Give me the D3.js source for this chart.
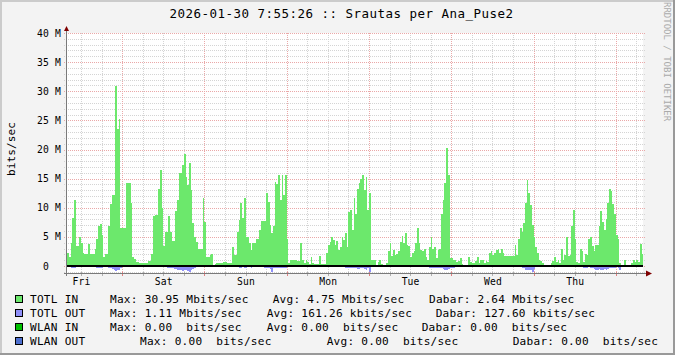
<!DOCTYPE html>
<html><head><meta charset="utf-8">
<script src="https://cdn.jsdelivr.net/npm/d3@7/dist/d3.min.js"></script>
<style>
body{margin:0;background:#f3f3f3}
svg{display:block}
text{font-family:"DejaVu Sans Mono",monospace;white-space:pre}
</style>
</head><body>
<svg id="c" width="675" height="355"></svg>
<script>
// ---------------- data ----------------
const titleText = "2026-01-30 7:55:26 :: Srautas per Ana_Puse2";
const yAxisTitle = "bits/sec";
const watermark = "RRDTOOL / TOBI OETIKER";
const rangeStart = Date.UTC(2026, 0, 23, 7, 55, 26);
const rangeEnd   = Date.UTC(2026, 0, 30, 7, 55, 26);
const seriesStart = Date.UTC(2026, 0, 23, 8, 0, 0);
const stepMinutes = 30;
const dayNames = ["Sun","Mon","Tue","Wed","Thu","Fri","Sat"];
const yTickValues = [0, 5, 10, 15, 20, 25, 30, 35, 40];           // Mbit/s
const yTickLabels = ["0", "5 M", "10 M", "15 M", "20 M", "25 M", "30 M", "35 M", "40 M"];
const yMin = -1.2, yMax = 40;

// TOTL IN, Mbit/s, 30-minute steps
const totlIn = [
2.2,1.6,3.9,8.3,11.3,3.4,3.4,
4.9,4.0,2.2,2.1,2.1,3.7,2.0,
2.0,2.0,2.9,4.7,6.8,7.2,5.3,
1.6,2.0,2.0,6.9,10.6,12.2,12.2,
30.95,23.5,25.2,6.6,6.6,6.6,14.2,
14.2,14.2,10.9,1.6,1.2,0.7,0.7,
0.5,0.5,0.6,0.6,0.6,0.9,0.9,
2.0,8.6,8.8,8.8,13.3,16.5,9.9,
3.4,5.9,5.9,8.6,5.9,4.3,4.3,
9.5,11.3,15.9,15.9,17.3,19.2,15.3,
13.9,17.7,13.0,7.3,5.0,4.2,3.0,
3.0,3.0,11.6,7.6,1.6,1.6,1.9,
2.1,0,0.3,0.5,0.5,0.6,0.6,
0.7,0.7,0.6,0.6,0.6,3.2,1.9,
1.9,5.9,7.9,10.8,8.2,11.6,5.0,
5.0,3.9,2.7,3.9,3.9,4.7,4.7,
6.2,7.8,7.8,7.8,12.5,11.0,7.0,
5.6,6.9,14.5,14.1,15.6,11.3,15.6,
12.2,15.6,4.6,0.6,1.0,1.0,1.0,
1.0,0.8,0.8,3.9,1.0,0.5,1.1,
0.7,0.3,1.5,0.6,0.3,0.3,0.3,
1.7,0.3,0.3,0.3,2.2,3.6,4.2,
4.9,4.5,3.6,4.3,2.7,3.2,4.9,
4.5,5.7,3.2,9.3,9.6,6.2,11.6,
9.0,13.3,14.2,15.0,15.6,13.0,15.2,
9.6,12.5,1.1,1.1,1.1,0.2,0.7,
1.1,0.3,0,0,0.6,2.5,3.9,
1.7,2.7,1.9,2.1,2.5,4.2,5.2,
3.9,5.7,3.6,3.4,1.6,2.2,2.5,
3.9,6.5,3.9,2.7,2.5,2.9,1.5,
1.0,3.2,4.9,2.9,3.2,1.3,2.7,
3.0,9.0,11.3,14.2,20.2,15.6,1.3,
1.3,1.0,1.0,0.7,0.9,1.3,0.3,
0.2,0.2,0.2,1.6,0.7,0.5,0.5,
0.9,1.6,0.5,1.0,1.0,0.6,0.9,
0.7,2.2,2.5,1.9,2.2,2.7,2.9,
2.3,2.9,2.2,1.7,1.7,1.7,1.7,
1.7,1.7,3.6,1.9,4.7,6.5,5.9,
7.3,10.8,14.8,12.5,10.5,7.0,5.0,
3.3,2.2,1.0,0.9,0.6,0,0.2,
0,0,0.6,0.9,1.6,0.7,1.0,
0.5,2.9,1.0,1.9,4.9,1.7,1.9,
6.8,9.6,4.7,0.7,0.5,2.9,2.5,
0.7,2.1,1.9,4.7,5.0,3.4,2.5,
3.6,3.6,6.8,9.5,7.6,6.2,8.0,
10.9,13.2,12.9,10.6,9.0,5.3,4.7,
0.5,0.2,0.2,1.0,0.2,0.2,0.2,
0.5,1.0,0.7,1.1,0.7,3.8,2.1,
2.6
];

// TOTL OUT, Mbit/s, 30-minute steps (drawn below zero)
const totlOut = [
0,0,0.3,0.4,0.4,0.2,0,
0,0,0,0,0,0,0,
0,0,0.2,0.3,0.3,0.3,0.3,
0.2,0.2,0.2,0.3,0.4,0.5,0.6,
0.8,0.7,0.6,0.4,0.2,0.1,0,
0,0,0,0,0,0,0,
0,0,0,0,0,0,0,
0,0.2,0.2,0.2,0.2,0.2,0,
0,0,0.3,0.3,0.4,0.4,0.5,
0.5,0.6,0.6,0.7,0.8,0.6,0.7,
0.8,1.0,0.7,0.5,0.3,0,0,
0,0.2,0.2,0.2,0,0,0,
0,0,0,0,0,0,0,
0,0,0,0,0,0,0,
0,0.2,0.3,0.3,0.2,0.3,0.3,
0.2,0.2,0.3,0.2,0,0,0,
0,0.2,0.2,0.3,0.3,0.4,0.5,
1.0,0.4,0.3,0.3,0.4,0.3,0.3,
0.3,0.4,0.2,0,0,0,0,
0,0,0,0,0,0,0,
0,0,0,0,0,0,0,
0,0,0,0,0,0,0.2,
0.2,0.2,0,0,0,0,0,
0,0.3,0.3,0.4,0.4,0.3,0.3,
0.4,0.5,0.5,0.4,0.4,0.5,0.6,
0.4,1.11,0,0,0,0,0,
0,0,0,0,0,0,0,
0,0,0,0,0,0,0,
0,0,0,0,0,0.2,0.2,
0.2,0.2,0,0,0,0,0,
0,0.3,0.3,0.3,0.4,0.4,0.3,
0.3,0.4,0.5,0.6,0.6,0.5,0.4,
0.3,0.3,0.2,0,0,0,0,
0,0,0,0,0,0,0,
0,0,0,0,0,0,0,
0,0,0,0,0,0,0,
0,0,0,0,0,0,0.2,
0.2,0.2,0,0,0,0,0.3,
0.4,0.6,0.6,0.7,0.6,1.0,0.5,
0,0,0,0,0,0,0,
0,0,0,0,0,0,0,
0,0,0,0,0.2,0.2,0.2,
0.2,0.2,0,0,0,0,0.2,
0.3,0.3,0.3,0.2,0.3,0.4,0.5,
0.6,0.6,0.5,0.6,0.6,0.5,0.6,
0.5,0.4,0.4,0.3,0.3,0.2,0.3,
0.6,0,0,0,0,0,0,
0,0,0,0,0,0,0,
0
];

const legendNames  = ["TOTL IN", "TOTL OUT", "WLAN IN", "WLAN OUT"];
const legendColors = ["#6ce86c", "#8f8ff8", "#00c000", "#4d6fcf"];
const legendMax    = ["Max: 30.95 Mbits/sec", "Max: 1.11 Mbits/sec", "Max: 0.00  bits/sec", "Max: 0.00  bits/sec"];
const legendAvg    = ["Avg: 4.75 Mbits/sec", "Avg: 161.26 kbits/sec", "Avg: 0.00  bits/sec", "Avg: 0.00  bits/sec"];
const legendCur    = ["Dabar: 2.64 Mbits/sec", "Dabar: 127.60 kbits/sec", "Dabar: 0.00  bits/sec", "Dabar: 0.00  bits/sec"];

// ---------------- layout ----------------
const W = 675, H = 355;
const P = {l: 67, r: 643, t: 33, b: 273};
const maxX = [110, 110, 110, 140];
const avgX = [272.7, 266.7, 266.7, 326.7];
const curX = [429, 435.7, 421.7, 512.7];

const svg = d3.select("#c");
svg.append("rect").attr("width", W).attr("height", H).attr("fill", "#f3f3f3");
svg.append("rect").attr("x", 0).attr("y", 0).attr("width", W).attr("height", 2).attr("fill", "#cbcbcb");
svg.append("rect").attr("x", 0).attr("y", 0).attr("width", 2).attr("height", H).attr("fill", "#cbcbcb");
svg.append("rect").attr("x", 0).attr("y", H - 2).attr("width", W).attr("height", 2).attr("fill", "#999");
svg.append("rect").attr("x", W - 2).attr("y", 0).attr("width", 2).attr("height", H).attr("fill", "#999");

svg.append("rect").attr("x", P.l).attr("y", P.t).attr("width", P.r - P.l).attr("height", P.b - P.t).attr("fill", "#ffffff");

const x = d3.scaleUtc().domain([new Date(rangeStart), new Date(rangeEnd)]).range([P.l, P.r]);
const y = d3.scaleLinear().domain([yMin, yMax]).range([P.b, P.t]);

const defs = svg.append("defs");
defs.append("clipPath").attr("id", "clip").append("rect")
  .attr("x", P.l).attr("y", P.t).attr("width", P.r - P.l).attr("height", P.b - P.t);

const minorCol = "#d4d4d4", majorCol = "#eaa8a8";
const g = svg.append("g").attr("shape-rendering", "crispEdges");

// horizontal grid
const minorY = d3.range(Math.ceil(yMin), yMax + 1).filter(v => v % 5 !== 0);
g.selectAll(".hmin").data(minorY).join("line")
  .attr("x1", P.l - 3).attr("x2", P.r + 3)
  .attr("y1", d => Math.round(y(d)) + 0.5).attr("y2", d => Math.round(y(d)) + 0.5)
  .attr("stroke", minorCol).attr("stroke-dasharray", "1,1");

// vertical grid
const ticks6h = d3.utcHour.every(6).range(new Date(rangeStart), new Date(rangeEnd));
g.selectAll(".vg").data(ticks6h).join("line")
  .attr("x1", d => Math.round(x(d)) + 0.5).attr("x2", d => Math.round(x(d)) + 0.5)
  .attr("y1", P.t).attr("y2", P.b)
  .attr("stroke", d => d.getUTCHours() === 0 ? majorCol : minorCol)
  .attr("stroke-dasharray", "1,1");
g.selectAll(".vt").data(ticks6h).join("line")
  .attr("x1", d => Math.round(x(d)) + 0.5).attr("x2", d => Math.round(x(d)) + 0.5)
  .attr("y1", P.b - 1).attr("y2", P.b + 3)
  .attr("stroke", d => d.getUTCHours() === 0 ? "#e08080" : "#b0b0b0");

g.selectAll(".hmaj").data(yTickValues).join("line")
  .attr("x1", P.l - 3).attr("x2", P.r + 3)
  .attr("y1", d => Math.round(y(d)) + 0.5).attr("y2", d => Math.round(y(d)) + 0.5)
  .attr("stroke", majorCol).attr("stroke-dasharray", "1,1");

// series
const step = stepMinutes * 60000;
const pts = arr => arr.map((v, i) => ({t: new Date(seriesStart + i * step), v}))
  .concat([{t: new Date(seriesStart + arr.length * step), v: arr[arr.length - 1]}]);

const areaIn = d3.area().curve(d3.curveStepAfter)
  .x(d => x(d.t)).y0(y(0)).y1(d => y(d.v));
const areaOut = d3.area().curve(d3.curveStepAfter)
  .x(d => x(d.t)).y0(y(0)).y1(d => y(-d.v));

const plotG = svg.append("g").attr("clip-path", "url(#clip)").attr("shape-rendering", "crispEdges");
plotG.append("path").datum(pts(totlIn)).attr("d", areaIn).attr("fill", legendColors[0]);
plotG.append("path").datum(pts(totlOut)).attr("d", areaOut).attr("fill", legendColors[1]);

// zero rule
svg.append("line").attr("x1", P.l).attr("x2", P.r).attr("y1", y(0)).attr("y2", y(0))
  .attr("stroke", "#000").attr("stroke-width", 2).attr("shape-rendering", "crispEdges");

// axes
const axisCol = "#7a7a7a";
svg.append("line").attr("x1", P.l - 3).attr("x2", P.r + 3).attr("y1", P.b + 0.5).attr("y2", P.b + 0.5)
  .attr("stroke", axisCol).attr("shape-rendering", "crispEdges");
svg.append("line").attr("x1", P.l - 0.5).attr("x2", P.l - 0.5).attr("y1", P.b + 3).attr("y2", P.t - 3)
  .attr("stroke", axisCol).attr("shape-rendering", "crispEdges");
svg.append("path").attr("d", `M${P.l - 3},${P.t - 2}L${P.l + 2},${P.t - 2}L${P.l - 0.5},${P.t - 7}Z`).attr("fill", "#7f0000");
svg.append("path").attr("d", `M${P.r + 3},${P.b - 2.5}L${P.r + 3},${P.b + 3.5}L${P.r + 9},${P.b + 0.5}Z`).attr("fill", "#7f0000");

// y labels
svg.selectAll(".yl").data(yTickValues).join("text")
  .attr("x", (d, i) => yTickLabels[i].length === 1 ? P.l - 18 : P.l - 6)
  .attr("y", d => y(d) + 3.5)
  .attr("text-anchor", "end").attr("font-size", "9.7px").attr("letter-spacing", "0.16px")
  .attr("fill", "#000").text((d, i) => yTickLabels[i]);

// x labels at noon of each day
const noons = d3.utcDay.range(d3.utcDay.floor(new Date(rangeStart)), new Date(rangeEnd))
  .map(d => new Date(+d + 12 * 3600000))
  .filter(d => x(d) > P.l && x(d) < P.r);
svg.selectAll(".xl").data(noons).join("text")
  .attr("x", d => x(d) + 0.5).attr("y", P.b + 12)
  .attr("text-anchor", "middle").attr("font-size", "9.7px").attr("letter-spacing", "0.16px")
  .text(d => dayNames[d.getUTCDay()]);

// title
svg.append("text").attr("x", 341.5).attr("y", 18.3).attr("text-anchor", "middle")
  .attr("font-size", "12.5px").attr("letter-spacing", "0.47px").text(titleText);

// y title
svg.append("text").attr("transform", "translate(14.5,149) rotate(-90)")
  .attr("text-anchor", "middle").attr("font-size", "11.1px").attr("letter-spacing", "0.1px").text(yAxisTitle);

// watermark
svg.append("text").attr("transform", "translate(663.5,2) rotate(90)")
  .attr("font-size", "9px").attr("fill", "#aaaaaa").text(watermark);

// legend
const leg = svg.append("g");
legendNames.forEach((name, i) => {
  const by = 303 + i * 14;
  leg.append("rect").attr("x", 15.5).attr("y", by - 7.5).attr("width", 7).attr("height", 7)
    .attr("fill", legendColors[i]).attr("stroke", "#000").attr("shape-rendering", "crispEdges");
  const t = (xx, s) => leg.append("text").attr("x", xx).attr("y", by)
    .attr("font-size", "11.1px").attr("letter-spacing", "0.25px").text(s);
  t(30, name); t(maxX[i], legendMax[i]); t(avgX[i], legendAvg[i]); t(curX[i], legendCur[i]);
});
</script>
</body></html>
